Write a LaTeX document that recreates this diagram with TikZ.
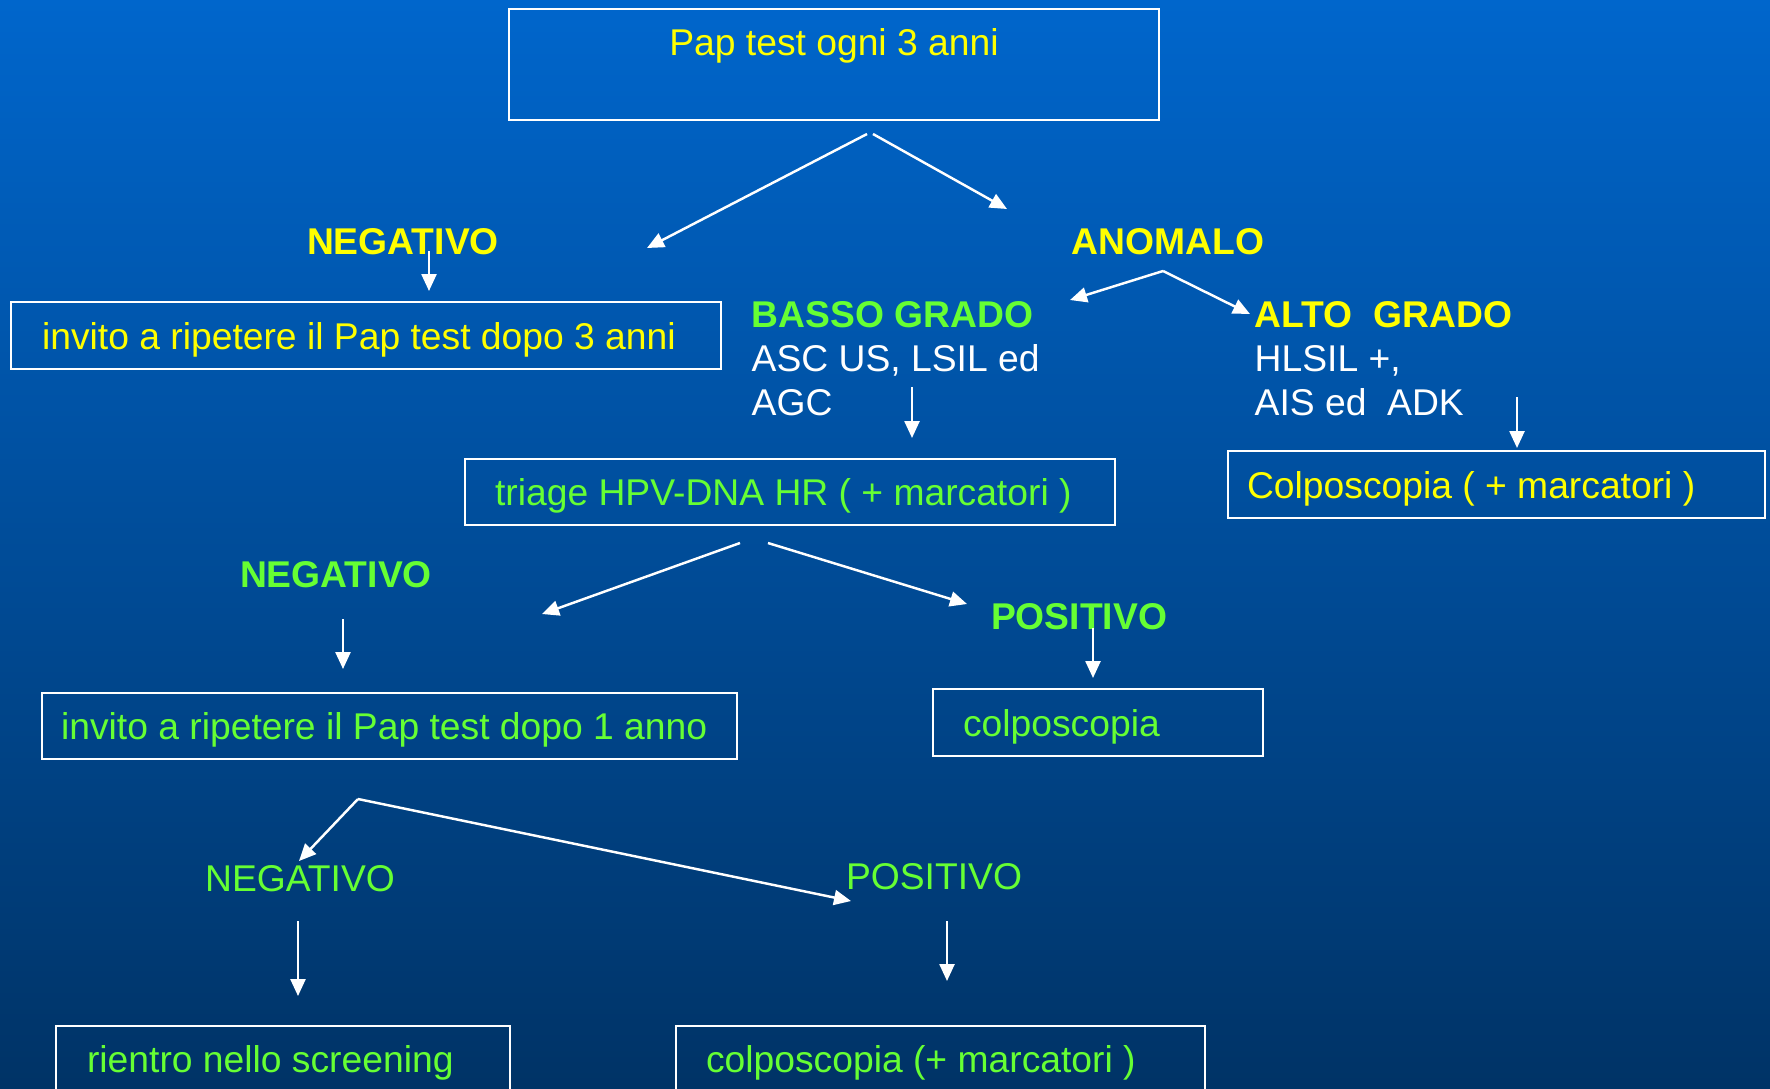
\documentclass[tikz,border=0pt]{standalone}
\usepackage{fontspec}
\setmainfont{Liberation Sans}
\usetikzlibrary{arrows.meta}
\definecolor{bgtop}{RGB}{0,102,204}
\definecolor{bgmid}{RGB}{0,82,166}
\definecolor{bgbot}{RGB}{0,51,102}
\definecolor{pyellow}{RGB}{255,255,0}
\definecolor{pgreen}{RGB}{102,255,51}
\newcommand\slidefont{\fontsize{10.6}{12.5}\selectfont}
\tikzset{
  frame/.style={draw=white,line width=0.6pt},
  box/.style={frame,anchor=west,minimum height=0.65cm,inner xsep=0.3cm,
    text height=10pt,text depth=2.2pt,font=\slidefont,
    execute at begin node={\spaceskip=0pt\xspaceskip=0pt}},
  arr/.style={draw=white,line width=0.7pt,-{Triangle[length=0.17cm,width=0.15cm]}},
  ytext/.style={text=pyellow,font=\slidefont},
  gtext/.style={text=pgreen,font=\slidefont},
  ybold/.style={text=pyellow,font=\slidefont\bfseries},
  gbold/.style={text=pgreen,font=\slidefont\bfseries},
  grade/.style={anchor=west,inner sep=0pt,text width=4cm,text=white,font=\slidefont,
    execute at begin node={\spaceskip=0pt\xspaceskip=0pt}},
}
\begin{document}
\begin{tikzpicture}[x=1cm,y=-1cm]
\shade[top color=bgtop,middle color=bgmid,bottom color=bgbot] (0,0) rectangle (17.7,10.88);
\useasboundingbox (0,0) rectangle (17.7,10.88);
\clip (0,0) rectangle (17.7,10.88);
% boxes
\node[frame,minimum width=6.5cm,minimum height=1.11cm] (pap) at (8.34,0.645) {};
\node[ytext] (paptxt) at (8.34,0.46) {Pap test ogni 3 anni};
\node[box,ytext,inner xsep=0.31cm,text width=6.48cm] (inv3) at (0.10,3.355) {invito a ripetere il Pap test dopo 3 anni};
\node[box,gtext,text width=5.9cm] (triage) at (4.64,4.92) {triage HPV-DNA HR ( + marcatori )};
\node[box,ytext,inner xsep=0.19cm,text width=4.99cm] (colpmarc1) at (12.27,4.845) {Colposcopia ( + marcatori )};
\node[box,gtext,inner xsep=0.19cm,text width=6.57cm,minimum height=0.66cm] (inv1) at (0.41,7.26) {invito a ripetere il Pap test dopo 1 anno};
\node[box,gtext,text width=2.7cm] (colp) at (9.32,7.225) {colposcopia};
\node[box,gtext,inner xsep=0.31cm,text width=3.92cm,minimum height=0.66cm] (rientro) at (0.55,10.59) {rientro nello screening};
\node[box,gtext,text width=4.69cm,minimum height=0.66cm] (colpmarc2) at (6.75,10.59) {colposcopia (+ marcatori )};
% labels
\node[ybold] (neg1) at (4.03,2.42) {NEGATIVO};
\node[ybold] (anom) at (11.68,2.42) {ANOMALO};
\node[grade] (basso) at (7.51,3.59)
  {\textcolor{pgreen}{\bfseries BASSO GRADO}\\ASC US, LSIL ed\\AGC};
\node[grade] (alto) at (12.54,3.59)
  {\textcolor{pyellow}{\bfseries ALTO\ \ GRADO}\\HLSIL +,\\AIS ed\ \ ADK};
\node[gbold] (neg2) at (3.36,5.75) {NEGATIVO};
\node[gbold] (pos2) at (10.79,6.17) {POSITIVO};
\node[gtext] (neg3) at (3.00,8.79) {NEGATIVO};
\node[gtext] (pos3) at (9.34,8.77) {POSITIVO};
% arrow ends
\coordinate (papl) at (8.67,1.34); \coordinate (papr) at (8.73,1.34);
\coordinate (neg1in) at (6.47,2.48); \coordinate (anomin) at (10.07,2.09);
\coordinate (neg1out) at (4.29,2.51); \coordinate (inv3in) at (4.29,2.91);
\coordinate (anomout) at (11.63,2.71);
\coordinate (bassoin) at (10.70,3.00); \coordinate (altoin) at (12.50,3.14);
\coordinate (bassoout) at (9.12,3.87); \coordinate (triagein) at (9.12,4.38);
\coordinate (altoout) at (15.17,3.97); \coordinate (colpmarc1in) at (15.17,4.48);
\coordinate (triagel) at (7.40,5.43); \coordinate (triager) at (7.68,5.43);
\coordinate (neg2in) at (5.42,6.14); \coordinate (pos2in) at (9.67,6.04);
\coordinate (neg2out) at (3.43,6.19); \coordinate (inv1in) at (3.43,6.69);
\coordinate (pos2out) at (10.93,6.28); \coordinate (colpin) at (10.93,6.78);
\coordinate (inv1out) at (3.58,7.99);
\coordinate (neg3in) at (2.99,8.61); \coordinate (pos3in) at (8.51,9.01);
\coordinate (neg3out) at (2.98,9.21); \coordinate (rientroin) at (2.98,9.96);
\coordinate (pos3out) at (9.47,9.21); \coordinate (colpmarc2in) at (9.47,9.81);
% arrows
\draw[arr] (papl) -- (neg1in);
\draw[arr] (papr) -- (anomin);
\draw[arr] (neg1out) -- (inv3in);
\draw[arr] (anomout) -- (bassoin);
\draw[arr] (anomout) -- (altoin);
\draw[arr] (bassoout) -- (triagein);
\draw[arr] (altoout) -- (colpmarc1in);
\draw[arr] (triagel) -- (neg2in);
\draw[arr] (triager) -- (pos2in);
\draw[arr] (neg2out) -- (inv1in);
\draw[arr] (pos2out) -- (colpin);
\draw[arr] (inv1out) -- (neg3in);
\draw[arr] (inv1out) -- (pos3in);
\draw[arr] (neg3out) -- (rientroin);
\draw[arr] (pos3out) -- (colpmarc2in);
\end{tikzpicture}
\end{document}
